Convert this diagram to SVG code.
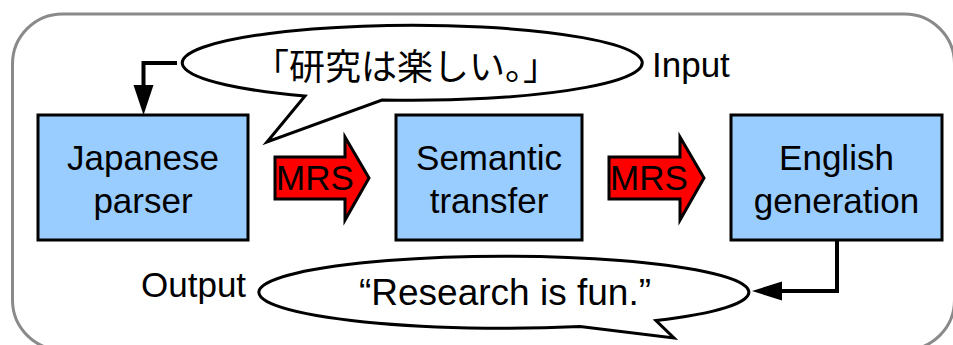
<svg xmlns="http://www.w3.org/2000/svg" width="953" height="345" viewBox="0 0 953 345">
<style>
.frame{fill:#fff;stroke:#8a8a8a;stroke-width:3}
.box{fill:#99ccff;stroke:#000;stroke-width:3}
.bubble{fill:#fff;stroke:#000;stroke-width:3;stroke-linejoin:miter}
.mrs{fill:#ff0000;stroke:#000;stroke-width:3;stroke-linejoin:miter}
.t{font-family:"Liberation Sans",Arial,sans-serif;font-size:35px;fill:#000}
.c{text-anchor:middle}
.jp{font-family:"Noto Sans CJK JP",sans-serif;font-size:36px;fill:#000;text-anchor:middle}
.conn{fill:none;stroke:#000;stroke-width:4}
.head{fill:#000}
</style>
<rect class="frame" x="12.5" y="14" width="942" height="336" rx="50" ry="50"/>
<g id="input-bubble">
<path class="bubble" d="M 305 96 L 267 142 L 382 100 A 230 37.5 0 1 0 305 96 Z"/>
<text class="jp" x="406" y="80">「研究は楽しい。」</text>
</g>
<text id="input-label" class="t" x="652" y="77">Input</text>
<g id="japanese-parser">
<rect class="box" x="38" y="115" width="210" height="125"/>
<text class="t c" x="143" y="170">Japanese</text>
<text class="t c" x="143" y="213">parser</text>
</g>
<g id="semantic-transfer">
<rect class="box" x="396" y="115" width="186" height="125"/>
<text class="t c" x="489" y="170">Semantic</text>
<text class="t c" x="489" y="213">transfer</text>
</g>
<g id="english-generation">
<rect class="box" x="731" y="115" width="211" height="125"/>
<text class="t c" x="836.5" y="170">English</text>
<text class="t c" x="836.5" y="213">generation</text>
</g>
<g id="mrs1">
<path class="mrs" d="M 275 157 L 345 157 L 345 137 L 369 178 L 345 220 L 345 199 L 275 199 Z"/>
<text class="t c" x="315" y="190">MRS</text>
</g>
<g id="mrs2">
<path class="mrs" d="M 609 157 L 680 157 L 680 137 L 704 178 L 680 220 L 680 199 L 609 199 Z"/>
<text class="t c" x="649" y="190">MRS</text>
</g>
<g id="output-bubble">
<path class="bubble" d="M 580 326.5 L 674 338 L 656 320.5 A 245 36 0 1 0 580 326.5 Z"/>
<text class="t c" x="505" y="305" style="font-size:37px">“Research is fun.”</text>
</g>
<text id="output-label" class="t" x="141" y="297">Output</text>
<g id="connectors">
<path class="conn" d="M 177 63 L 143.5 63 L 143.5 88"/>
<polygon class="head" points="133.5,85 153.5,85 143.5,115"/>
<path class="conn" d="M 837 240 L 837 291 L 779 291"/>
<polygon class="head" points="782,281.5 782,300.5 752,291"/>
</g>
</svg>
